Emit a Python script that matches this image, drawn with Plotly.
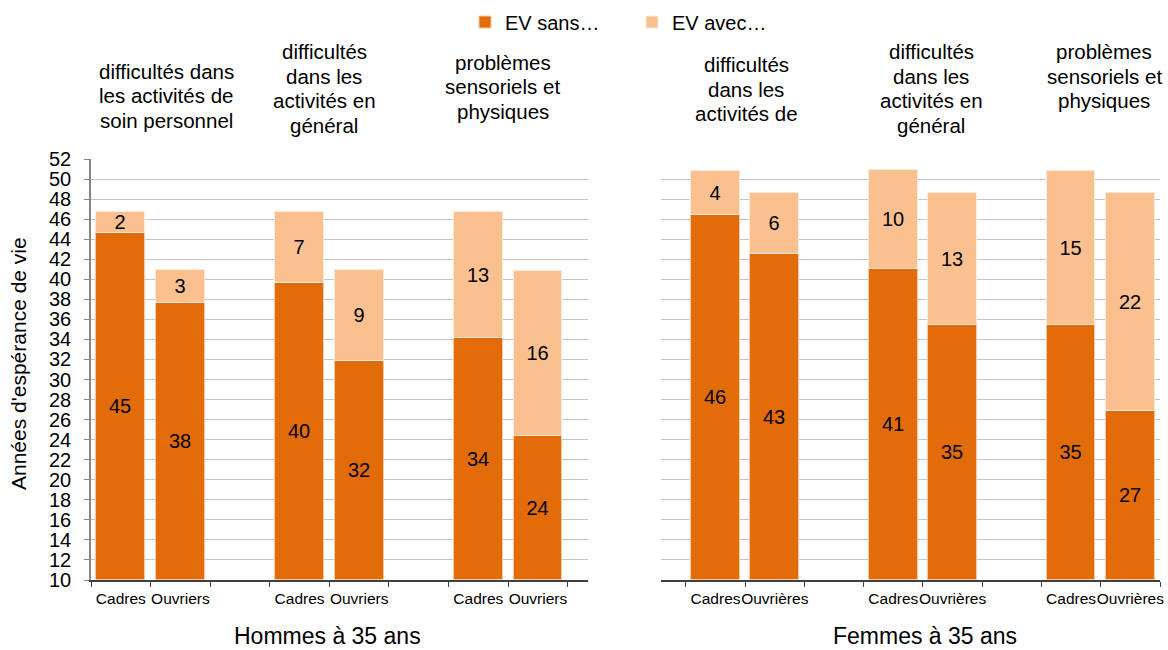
import plotly.graph_objects as go

# Catégories
professions_h = ["Cadres", "Ouvriers"]
professions_f = ["Cadres", "Ouvrières"]
groupes_h = [
    ["difficultés dans", "les activités de", "soin personnel"],
    ["difficultés", "dans les", "activités en", "général"],
    ["problèmes", "sensoriels et", "physiques"],
]
groupes_f = [
    ["difficultés", "dans les", "activités de"],
    ["difficultés", "dans les", "activités en", "général"],
    ["problèmes", "sensoriels et", "physiques"],
]

# Ordre : groupe 1 (Cadres, Ouvriers), groupe 2, groupe 3
hommes_sans = [44.6, 37.6, 39.6, 31.8, 34.1, 24.4]
hommes_avec = [2.1, 3.3, 7.1, 9.1, 12.6, 16.4]
femmes_sans = [46.4, 42.5, 41.0, 35.4, 35.4, 26.9]
femmes_avec = [4.4, 6.1, 9.9, 13.2, 15.4, 21.7]

Y_MIN = 10
C_SANS = "#E36C0A"
C_AVEC = "#FAC090"
FONT = "Liberation Sans, Arial, sans-serif"

# positions : 2 barres par groupe, une case vide entre les groupes
pos = [g * 3 + k for g in range(len(groupes_h)) for k in range(2)]
labels_h = [professions_h[k] for g in range(len(groupes_h)) for k in range(2)]
labels_f = [professions_f[k] for g in range(len(groupes_f)) for k in range(2)]
bounds = [p - 0.5 for p in range(9)]

fig = go.Figure()


def add_pair(sans, avec, xa, ya, show):
    common = dict(
        x=pos, xaxis=xa, yaxis=ya, width=0.82,
        texttemplate="%{customdata:.0f}", textposition="inside",
        insidetextanchor="middle", textangle=0,
        textfont=dict(size=20, color="black", family=FONT),
        hoverinfo="skip",
    )
    # la barre « sans » part du bas de l'axe (10) pour centrer l'étiquette
    fig.add_trace(go.Bar(
        y=[v - Y_MIN for v in sans], base=Y_MIN, customdata=sans,
        name="EV sans…", showlegend=show, legendgroup="sans",
        marker=dict(color=C_SANS, line=dict(color="#F6C9A4", width=1)),
        **common,
    ))
    fig.add_trace(go.Bar(
        y=avec, base=sans, customdata=avec,
        name="EV avec…", showlegend=show, legendgroup="avec",
        marker=dict(color=C_AVEC, line=dict(color="#FDE9D9", width=1)),
        **common,
    ))


add_pair(hommes_sans, hommes_avec, "x", "y", True)
add_pair(femmes_sans, femmes_avec, "x2", "y2", False)

ydom = [70 / 650, 491 / 650]
xcommon = dict(
    tickvals=pos, ticks="", showline=True, linecolor="#404040", linewidth=1.5,
    showgrid=False, zeroline=False, tickfont=dict(size=15.5, color="black"),
    ticklabelstandoff=4, tickangle=0, automargin=False,
    minor=dict(tickvals=bounds, ticks="outside", ticklen=5,
               tickcolor="#404040", tickwidth=1),
)
ycommon = dict(
    range=[Y_MIN, 52], tick0=Y_MIN, dtick=2, domain=ydom, zeroline=False,
    showgrid=True, gridcolor="#C4C4C4", gridwidth=1, automargin=False,
)

fig.update_layout(
    width=1168, height=650, template="plotly_white",
    margin=dict(l=0, r=0, t=0, b=0),
    barmode="overlay",
    font=dict(family=FONT, color="black", size=20),
    plot_bgcolor="white", paper_bgcolor="white",
    uniformtext=dict(minsize=20, mode="show"),
    xaxis=dict(domain=[91 / 1168, 588 / 1168], range=[-0.5, 7.84],
               ticktext=labels_h, anchor="y", **xcommon),
    xaxis2=dict(domain=[661 / 1168, 1160 / 1168], range=[-0.92, 7.5],
                ticktext=labels_f, anchor="y2", **xcommon),
    yaxis=dict(anchor="x", showline=True, linecolor="#868686", linewidth=1.5,
               ticks="outside", ticklen=5, tickcolor="#868686",
               tickfont=dict(size=20, color="black"), ticklabelstandoff=9,
               **ycommon),
    yaxis2=dict(anchor="x2", showline=False, showticklabels=False, ticks="",
                **ycommon),
    legend=dict(orientation="h", x=465 / 1168, y=1 - 22 / 650,
                xanchor="left", yanchor="middle",
                font=dict(size=20), bgcolor="rgba(0,0,0,0)",
                entrywidth=122, traceorder="normal"),
    bargap=0,
)


def add_group_labels(groups, xs, y_first):
    for lines, xc, y0 in zip(groups, xs, y_first):
        for i, line in enumerate(lines):
            fig.add_annotation(text=line, x=xc / 1168,
                               y=1 - (y0 + 24.5 * i) / 650,
                               xref="paper", yref="paper", showarrow=False,
                               font=dict(size=20.5), xanchor="center",
                               yanchor="middle")


# libellés des groupes au-dessus des barres
add_group_labels(groupes_h, [166, 324, 503], [71, 52, 62])
add_group_labels(groupes_f, [746, 931, 1104], [65, 52, 52])

fig.add_annotation(text="Années d'espérance de vie", x=18 / 1168,
                   y=1 - 364 / 650, xref="paper", yref="paper",
                   showarrow=False, textangle=-90, font=dict(size=21),
                   xanchor="center", yanchor="middle")
fig.add_annotation(text="Hommes à 35 ans", x=327 / 1168, y=1 - 636 / 650,
                   xref="paper", yref="paper", showarrow=False,
                   font=dict(size=23), xanchor="center", yanchor="middle")
fig.add_annotation(text="Femmes à 35 ans", x=925 / 1168, y=1 - 636 / 650,
                   xref="paper", yref="paper", showarrow=False,
                   font=dict(size=23), xanchor="center", yanchor="middle")

fig.write_html("out.html", config={"displayModeBar": False},
               post_script="document.body.style.margin = '0';")
